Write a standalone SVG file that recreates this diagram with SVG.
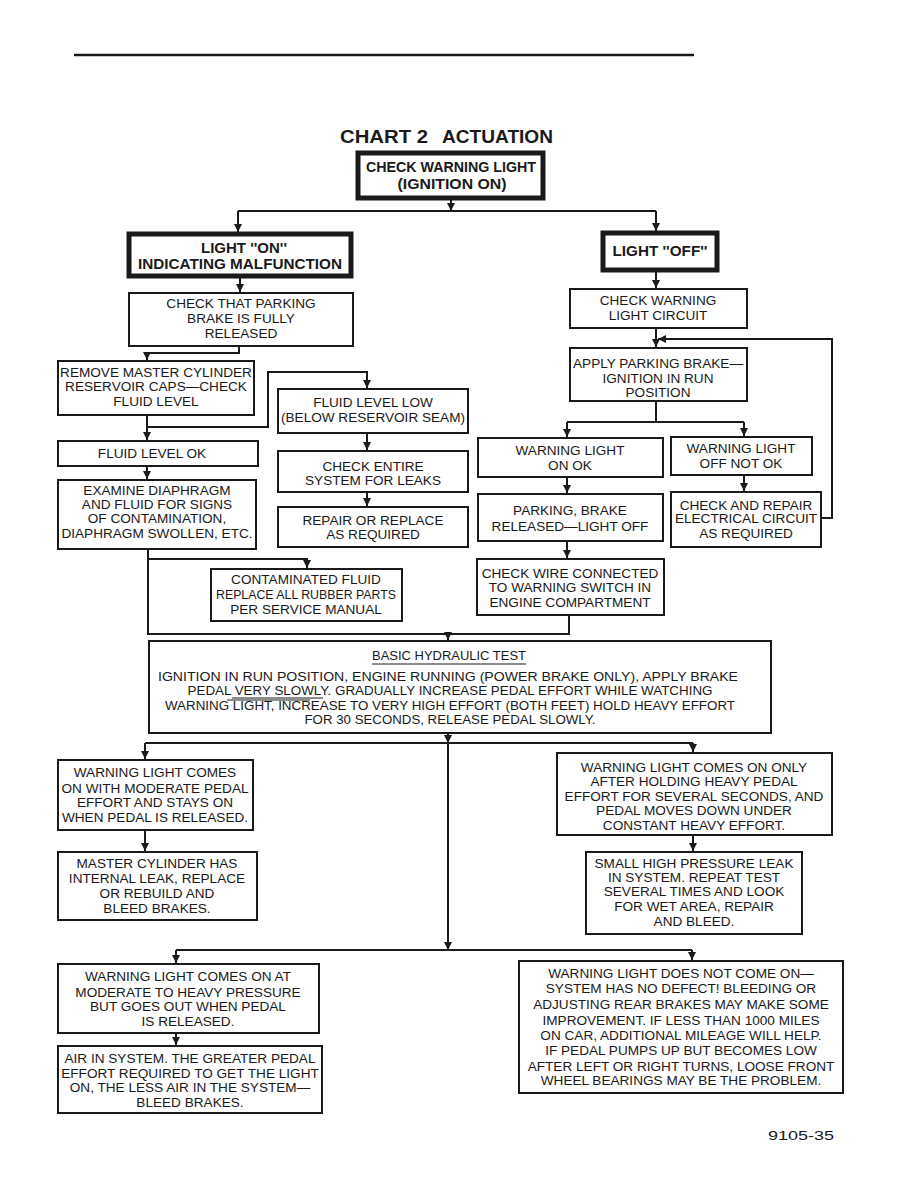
<svg xmlns="http://www.w3.org/2000/svg" width="918" height="1188" viewBox="0 0 918 1188">
<defs>
<marker id="ah" viewBox="0 0 10 10" refX="10" refY="5" markerWidth="8" markerHeight="8" markerUnits="userSpaceOnUse" orient="auto">
<path d="M0,0 L10,5 L0,10 z" fill="#1a1a1a"/>
</marker>
<style>
.b{fill:#fff;stroke:#1a1a1a;stroke-width:2}
.bt{fill:#fff;stroke:#1a1a1a;stroke-width:5}
.t{font-family:"Liberation Sans",Arial,sans-serif;font-size:13.6px;fill:#1a1a1a;text-anchor:middle}
.tb{font-family:"Liberation Sans",Arial,sans-serif;font-size:14.5px;font-weight:bold;fill:#1a1a1a;text-anchor:middle}
.c{fill:none;stroke:#1a1a1a;stroke-width:2}
.ca{fill:none;stroke:#1a1a1a;stroke-width:2;marker-end:url(#ah)}
.u{stroke:#1a1a1a;stroke-width:1.2}
</style>
</defs>
<rect width="918" height="1188" fill="#fff"/>
<line x1="74" y1="55" x2="694" y2="55" stroke="#1a1a1a" stroke-width="2.5"/>
<text x="340" y="143" font-family="Liberation Sans,Arial,sans-serif" font-size="18" font-weight="bold" fill="#1a1a1a" textLength="88" lengthAdjust="spacingAndGlyphs">CHART 2</text>
<text x="442" y="143" font-family="Liberation Sans,Arial,sans-serif" font-size="18" font-weight="bold" fill="#1a1a1a" textLength="111" lengthAdjust="spacingAndGlyphs">ACTUATION</text>

<g id="connectors">
<path class="ca" d="M451,199 V211"/>
<path class="c" d="M238,211 H656"/>
<path class="ca" d="M238,211 V232"/>
<path class="ca" d="M656,211 V231"/>
<path class="ca" d="M240,278 V292"/>
<path class="ca" d="M239,346 V353 H147 V360"/>
<path class="ca" d="M147,415 V440"/>
<path class="ca" d="M147,427 H268 V372 H367 V388"/>
<path class="ca" d="M367,433 V450"/>
<path class="ca" d="M367,492 V506"/>
<path class="ca" d="M147,466 V479"/>
<path class="c" d="M148,549 V634 H569 V615"/>
<path class="ca" d="M148,559 H307 V568"/>
<path class="ca" d="M448,634 V640"/>
<path class="ca" d="M656,272 V288"/>
<path class="ca" d="M656,328 V347"/>
<path class="ca" d="M821,518 H832 V339 H658"/>
<path class="c" d="M656,401 V422"/>
<path class="c" d="M567,422 H744"/>
<path class="ca" d="M567,422 V437"/>
<path class="ca" d="M744,422 V436"/>
<path class="ca" d="M567,477 V493"/>
<path class="ca" d="M744,475 V491"/>
<path class="ca" d="M567,541 V558"/>
<path class="ca" d="M448,733 V743"/>
<path class="c" d="M145,743 H693"/>
<path class="ca" d="M145,743 V759"/>
<path class="ca" d="M693,743 V752"/>
<path class="ca" d="M448,743 V950"/>
<path class="c" d="M176,950 H692"/>
<path class="ca" d="M176,950 V963"/>
<path class="ca" d="M692,950 V960"/>
<path class="ca" d="M145,830 V851"/>
<path class="ca" d="M693,835 V851"/>
<path class="ca" d="M176,1033 V1045"/>
</g>

<g id="n_start"><rect class="bt" x="358" y="153" width="185" height="45" stroke-width="4"/>
<text class="tb" x="451" y="172" textLength="170" lengthAdjust="spacingAndGlyphs">CHECK WARNING LIGHT</text><text class="tb" x="452" y="189" textLength="109" lengthAdjust="spacingAndGlyphs">(IGNITION ON)</text></g>

<g id="n_on"><rect class="bt" x="129" y="234" width="222" height="42"/>
<text class="tb" x="244" y="253" textLength="86" lengthAdjust="spacingAndGlyphs">LIGHT ''ON''</text><text class="tb" x="240" y="269" textLength="204" lengthAdjust="spacingAndGlyphs">INDICATING MALFUNCTION</text></g>

<g id="n_off"><rect class="bt" x="603" y="233" width="114" height="37"/>
<text class="tb" x="660" y="256" textLength="95" lengthAdjust="spacingAndGlyphs">LIGHT ''OFF''</text></g>

<g id="n_park"><rect class="b" x="129" y="293" width="224" height="53"/>
<text class="t" x="241" y="308">CHECK THAT PARKING</text><text class="t" x="241" y="323">BRAKE IS FULLY</text><text class="t" x="241" y="338">RELEASED</text></g>

<g id="n_remove"><rect class="b" x="58" y="361" width="196" height="54"/>
<text class="t" x="156" y="377">REMOVE MASTER CYLINDER</text><text class="t" x="156" y="391">RESERVOIR CAPS—CHECK</text><text class="t" x="156" y="406">FLUID LEVEL</text></g>

<g id="n_ok"><rect class="b" x="58" y="441" width="200" height="25"/>
<text class="t" x="152" y="458">FLUID LEVEL OK</text></g>

<g id="n_low"><rect class="b" x="278" y="389" width="190" height="44"/>
<text class="t" x="373" y="407">FLUID LEVEL LOW</text><text class="t" x="373" y="422">(BELOW RESERVOIR SEAM)</text></g>

<g id="n_leaks"><rect class="b" x="278" y="451" width="190" height="41"/>
<text class="t" x="373" y="471">CHECK ENTIRE</text><text class="t" x="373" y="485">SYSTEM FOR LEAKS</text></g>

<g id="n_repair"><rect class="b" x="278" y="507" width="190" height="40"/>
<text class="t" x="373" y="525">REPAIR OR REPLACE</text><text class="t" x="373" y="539">AS REQUIRED</text></g>

<g id="n_examine"><rect class="b" x="58" y="480" width="198" height="69"/>
<text class="t" x="157" y="495">EXAMINE DIAPHRAGM</text><text class="t" x="157" y="509">AND FLUID FOR SIGNS</text><text class="t" x="157" y="523">OF CONTAMINATION,</text><text class="t" x="157" y="538">DIAPHRAGM SWOLLEN, ETC.</text></g>

<g id="n_contam"><rect class="b" x="211" y="569" width="191" height="52"/>
<text class="t" x="306" y="584">CONTAMINATED FLUID</text><text class="t" x="306" y="599" textLength="180" lengthAdjust="spacingAndGlyphs">REPLACE ALL RUBBER PARTS</text><text class="t" x="306" y="614">PER SERVICE MANUAL</text></g>

<g id="n_circuit"><rect class="b" x="570" y="289" width="177" height="39"/>
<text class="t" x="658" y="305">CHECK WARNING</text><text class="t" x="658" y="320">LIGHT CIRCUIT</text></g>

<g id="n_apply"><rect class="b" x="570" y="348" width="177" height="53"/>
<text class="t" x="658" y="368">APPLY PARKING BRAKE—</text><text class="t" x="658" y="383">IGNITION IN RUN</text><text class="t" x="658" y="397">POSITION</text></g>

<g id="n_onok"><rect class="b" x="478" y="438" width="185" height="39"/>
<text class="t" x="570" y="455">WARNING LIGHT</text><text class="t" x="570" y="470">ON OK</text></g>

<g id="n_offnok"><rect class="b" x="671" y="437" width="141" height="38"/>
<text class="t" x="741" y="453">WARNING LIGHT</text><text class="t" x="741" y="468">OFF NOT OK</text></g>

<g id="n_released"><rect class="b" x="478" y="494" width="185" height="47"/>
<text class="t" x="570" y="515">PARKING, BRAKE</text><text class="t" x="570" y="531">RELEASED—LIGHT OFF</text></g>

<g id="n_electric"><rect class="b" x="671" y="492" width="150" height="55"/>
<text class="t" x="746" y="510">CHECK AND REPAIR</text><text class="t" x="746" y="523">ELECTRICAL CIRCUIT</text><text class="t" x="746" y="538">AS REQUIRED</text></g>

<g id="n_wire"><rect class="b" x="477" y="559" width="187" height="56"/>
<text class="t" x="570" y="578">CHECK WIRE CONNECTED</text><text class="t" x="570" y="592">TO WARNING SWITCH IN</text><text class="t" x="570" y="607">ENGINE COMPARTMENT</text></g>

<g id="n_basic"><rect class="b" x="149" y="641" width="622" height="92"/>
<text class="t" x="449" y="660" textLength="154" lengthAdjust="spacingAndGlyphs">BASIC HYDRAULIC TEST</text>
<line class="u" x1="372" y1="664" x2="526" y2="664"/>
<text class="t" x="448" y="681" textLength="580" lengthAdjust="spacingAndGlyphs">IGNITION IN RUN POSITION, ENGINE RUNNING (POWER BRAKE ONLY), APPLY BRAKE</text>
<text class="t" x="450" y="695" textLength="525" lengthAdjust="spacingAndGlyphs">PEDAL VERY SLOWLY. GRADUALLY INCREASE PEDAL EFFORT WHILE WATCHING</text>
<line class="u" x1="232" y1="698" x2="323" y2="698"/>
<text class="t" x="450" y="710" textLength="570" lengthAdjust="spacingAndGlyphs">WARNING LIGHT, INCREASE TO VERY HIGH EFFORT (BOTH FEET) HOLD HEAVY EFFORT</text>
<line class="u" x1="227" y1="700" x2="310" y2="700"/>
<text class="t" x="450" y="724" textLength="291" lengthAdjust="spacingAndGlyphs">FOR 30 SECONDS, RELEASE PEDAL SLOWLY.</text></g>

<g id="n_moderate"><rect class="b" x="58" y="760" width="195" height="70"/>
<text class="t" x="155" y="777">WARNING LIGHT COMES</text><text class="t" x="155" y="793">ON WITH MODERATE PEDAL</text><text class="t" x="155" y="807">EFFORT AND STAYS ON</text><text class="t" x="155" y="822">WHEN PEDAL IS RELEASED.</text></g>

<g id="n_master"><rect class="b" x="58" y="852" width="199" height="68"/>
<text class="t" x="157" y="868">MASTER CYLINDER HAS</text><text class="t" x="157" y="883">INTERNAL LEAK, REPLACE</text><text class="t" x="157" y="898">OR REBUILD AND</text><text class="t" x="157" y="913">BLEED BRAKES.</text></g>

<g id="n_only"><rect class="b" x="557" y="753" width="275" height="82"/>
<text class="t" x="694" y="772">WARNING LIGHT COMES ON ONLY</text><text class="t" x="694" y="786">AFTER HOLDING HEAVY PEDAL</text><text class="t" x="694" y="801">EFFORT FOR SEVERAL SECONDS, AND</text><text class="t" x="694" y="815">PEDAL MOVES DOWN UNDER</text><text class="t" x="694" y="830">CONSTANT HEAVY EFFORT.</text></g>

<g id="n_small"><rect class="b" x="586" y="852" width="216" height="82"/>
<text class="t" x="694" y="868">SMALL HIGH PRESSURE LEAK</text><text class="t" x="694" y="882">IN SYSTEM. REPEAT TEST</text><text class="t" x="694" y="896">SEVERAL TIMES AND LOOK</text><text class="t" x="694" y="911">FOR WET AREA, REPAIR</text><text class="t" x="694" y="926">AND BLEED.</text></g>

<g id="n_airon"><rect class="b" x="58" y="964" width="261" height="69"/>
<text class="t" x="188" y="981">WARNING LIGHT COMES ON AT</text><text class="t" x="188" y="997">MODERATE TO HEAVY PRESSURE</text><text class="t" x="188" y="1011">BUT GOES OUT WHEN PEDAL</text><text class="t" x="188" y="1026">IS RELEASED.</text></g>

<g id="n_air"><rect class="b" x="58" y="1046" width="264" height="67"/>
<text class="t" x="190" y="1063">AIR IN SYSTEM. THE GREATER PEDAL</text><text class="t" x="190" y="1078">EFFORT REQUIRED TO GET THE LIGHT</text><text class="t" x="190" y="1092">ON, THE LESS AIR IN THE SYSTEM—</text><text class="t" x="190" y="1107">BLEED BRAKES.</text></g>

<g id="n_nodefect"><rect class="b" x="519" y="961" width="324" height="132"/>
<text class="t" x="681" y="978">WARNING LIGHT DOES NOT COME ON—</text>
<text class="t" x="681" y="993">SYSTEM HAS NO DEFECT! BLEEDING OR</text>
<text class="t" x="681" y="1009">ADJUSTING REAR BRAKES MAY MAKE SOME</text>
<text class="t" x="681" y="1025">IMPROVEMENT. IF LESS THAN 1000 MILES</text>
<text class="t" x="681" y="1040">ON CAR, ADDITIONAL MILEAGE WILL HELP.</text>
<text class="t" x="681" y="1055">IF PEDAL PUMPS UP BUT BECOMES LOW</text>
<text class="t" x="681" y="1071">AFTER LEFT OR RIGHT TURNS, LOOSE FRONT</text>
<text class="t" x="681" y="1085">WHEEL BEARINGS MAY BE THE PROBLEM.</text></g>

<text x="834" y="1140" font-family="Liberation Sans,Arial,sans-serif" font-size="12" fill="#1a1a1a" text-anchor="end" textLength="66" lengthAdjust="spacingAndGlyphs">9105-35</text>
</svg>
